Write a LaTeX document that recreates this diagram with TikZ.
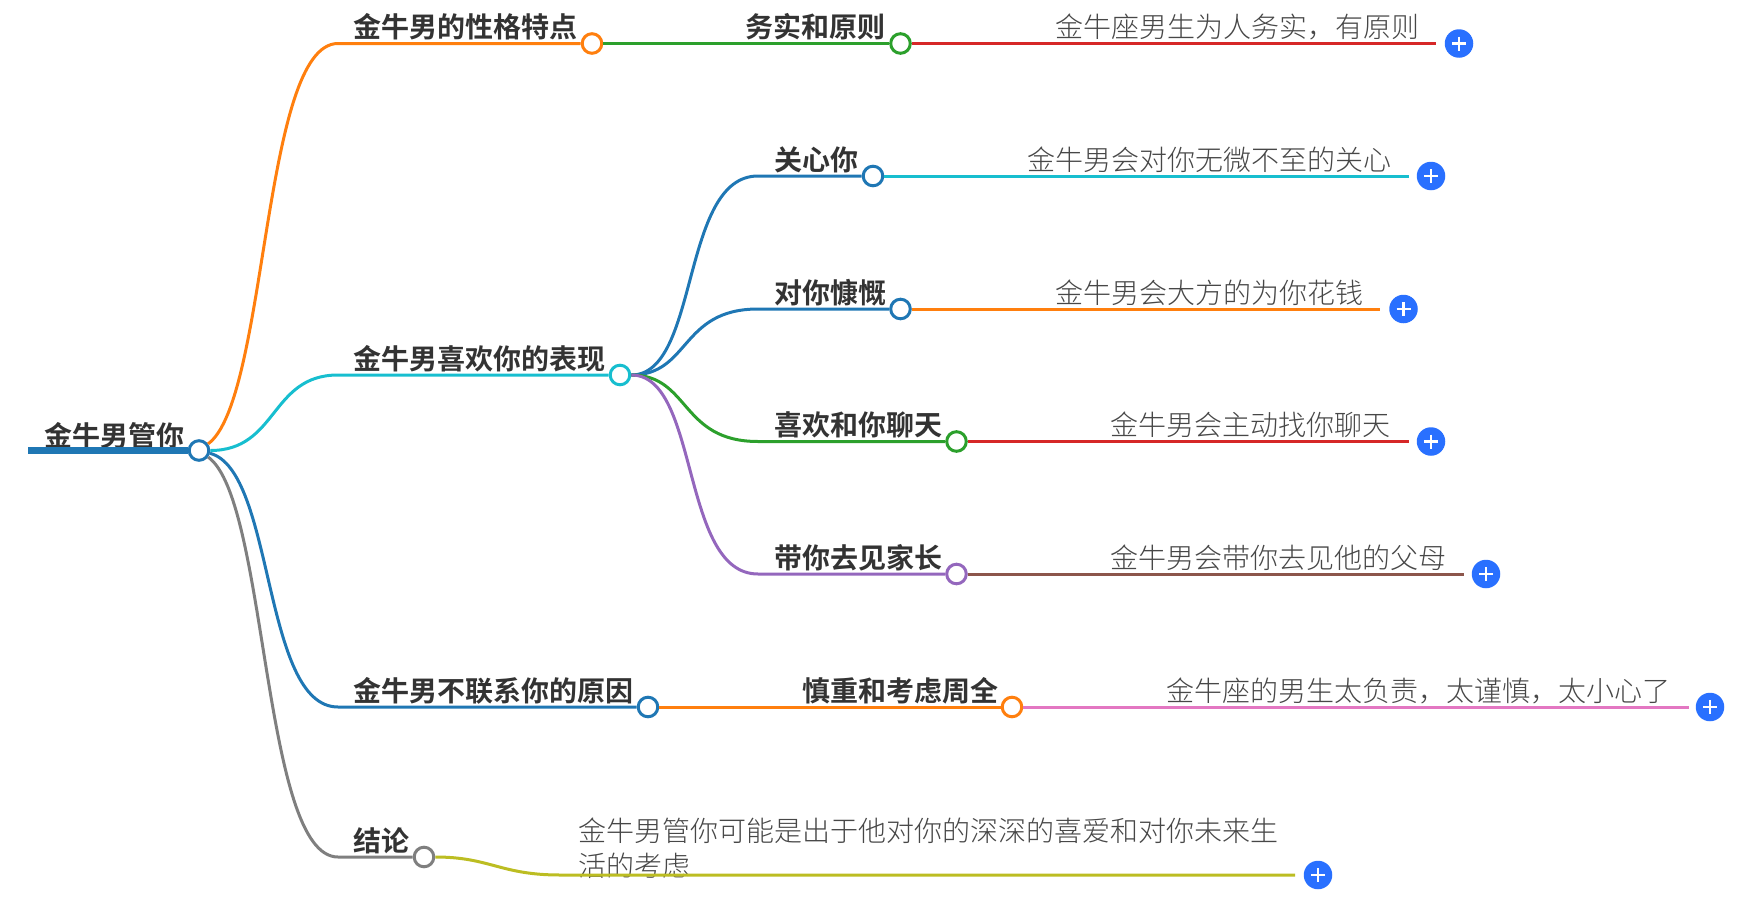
\documentclass[tikz,border=0pt]{standalone}
\usepackage{fontspec}
\usepackage{xcolor}
\setmainfont{Noto Sans CJK SC Light}
\newfontfamily\topicfont{Noto Sans CJK SC Bold}
\definecolor{cblue}{HTML}{1F77B4}
\definecolor{corange}{HTML}{FF7F0E}
\definecolor{cgreen}{HTML}{2CA02C}
\definecolor{cred}{HTML}{D62728}
\definecolor{cpurple}{HTML}{9467BD}
\definecolor{cbrown}{HTML}{8C564B}
\definecolor{cpink}{HTML}{E377C2}
\definecolor{cgray}{HTML}{7F7F7F}
\definecolor{colive}{HTML}{BCBD22}
\definecolor{ccyan}{HTML}{17BECF}
\definecolor{ctext}{HTML}{333333}
\definecolor{cplus}{HTML}{2970FF}
\tikzset{
	topic/.style={anchor=base west, inner sep=0pt, text=ctext, font=\topicfont\fontsize{28}{35}\selectfont},
	leaf/.style={anchor=base west, inner sep=0pt, text=ctext!90, font=\fontsize{28}{35}\selectfont},
	dot/.style={circle, draw=#1, fill=white, line width=3pt, minimum size=19.6pt, inner sep=0pt},
	plusbtn/.style={circle, fill=cplus, minimum size=28.5pt, inner sep=0pt,
		path picture={\draw[white, line width=2.2pt] (path picture bounding box.center) ++(-7,0) -- ++(14,0)
			(path picture bounding box.center) ++(0,-7) -- ++(0,14);}},
	link/.style={draw=#1, line width=3pt},
}
\begin{document}
\begin{tikzpicture}[x=1pt, y=-1pt]
	\useasboundingbox (0,0) rectangle (1748,902);

	\node[dot=cblue] (root) at (199,450.5) {};
	\node[dot=corange] (n1) at (592,43.5) {};
	\node[dot=ccyan] (n2) at (620,375) {};
	\node[dot=cblue] (n3) at (648,707) {};
	\node[dot=cgray] (n4) at (424,857) {};
	\node[dot=cgreen] (n11) at (900.5,43.5) {};
	\node[dot=cblue] (n21) at (873,176) {};
	\node[dot=cblue] (n22) at (900.5,309) {};
	\node[dot=cgreen] (n23) at (956.5,441.5) {};
	\node[dot=cpurple] (n24) at (956.5,574) {};
	\node[dot=corange] (n31) at (1012,707) {};

	\node[plusbtn] (p11) at (1459,43.5) {};
	\node[plusbtn] (p21) at (1431,176) {};
	\node[plusbtn] (p22) at (1403.5,309) {};
	\node[plusbtn] (p23) at (1431,441.5) {};
	\node[plusbtn] (p24) at (1486,574) {};
	\node[plusbtn] (p31) at (1710,707) {};
	\node[plusbtn] (p41) at (1318,875) {};

	\node[topic] (t0) at (44,446) {金牛男管你};
	\node[topic] (t1) at (353,37.5) {金牛男的性格特点};
	\node[topic] (t2) at (353,369) {金牛男喜欢你的表现};
	\node[topic] (t3) at (353,701) {金牛男不联系你的原因};
	\node[topic] (t4) at (353,851) {结论};
	\node[topic] (t11) at (745,37.5) {务实和原则};
	\node[topic] (t21) at (774,170) {关心你};
	\node[topic] (t22) at (774,303) {对你慷慨};
	\node[topic] (t23) at (774,435.5) {喜欢和你聊天};
	\node[topic] (t24) at (774,568) {带你去见家长};
	\node[topic] (t31) at (802,701) {慎重和考虑周全};

	\node[leaf] (l11) at (1055,37.5) {金牛座男生为人务实，有原则};
	\node[leaf] (l21) at (1027,170) {金牛男会对你无微不至的关心};
	\node[leaf] (l22) at (1055,303) {金牛男会大方的为你花钱};
	\node[leaf] (l23) at (1110,435.5) {金牛男会主动找你聊天};
	\node[leaf] (l24) at (1110,568) {金牛男会带你去见他的父母};
	\node[leaf] (l31) at (1166,701) {金牛座的男生太负责，太谨慎，太小心了};
	\node[leaf, anchor=south west, align=left] (l41) at (578.5,879) {金牛男管你可能是出于他对你的深深的喜爱和对你未来生\\活的考虑};

	\coordinate (a0) at (28,450.5);
	\coordinate (a1) at (338,43.5);
	\coordinate (a2) at (338,375);
	\coordinate (a3) at (338,707);
	\coordinate (a4) at (338,857);
	\coordinate (b21) at (758,176);
	\coordinate (b22) at (758,309);
	\coordinate (b23) at (758,441.5);
	\coordinate (b24) at (758,574);
	\coordinate (b41) at (560,875);
	\coordinate (e11) at (1436,43.5);
	\coordinate (e21) at (1409,176);
	\coordinate (e22) at (1380,309);
	\coordinate (e23) at (1409,441.5);
	\coordinate (e24) at (1464,574);
	\coordinate (e31) at (1689,707);
	\coordinate (e41) at (1295,875);

	\draw[link=cblue, line width=6.5pt] (a0) -- (root);

	\draw[link=corange] (root) .. controls (268,400) and (262,43.5) .. (a1) -- (n1);
	\draw[link=ccyan] (root) .. controls (278,450.5) and (270,375) .. (a2) -- (n2);
	\draw[link=cblue] (root) .. controls (275,470) and (262,707) .. (a3) -- (n3);
	\draw[link=cgray] (root) .. controls (268,500) and (262,857) .. (a4) -- (n4);

	\draw[link=cgreen] (n1) -- (n11);
	\draw[link=cred] (n11) -- (e11);

	\draw[link=cblue] (n2) .. controls (700,375) and (680,176) .. (b21) -- (n21);
	\draw[link=cblue] (n2) .. controls (690,375) and (680,309) .. (b22) -- (n22);
	\draw[link=cgreen] (n2) .. controls (690,375) and (680,441.5) .. (b23) -- (n23);
	\draw[link=cpurple] (n2) .. controls (700,375) and (680,574) .. (b24) -- (n24);
	\draw[link=ccyan] (n21) -- (e21);
	\draw[link=corange] (n22) -- (e22);
	\draw[link=cred] (n23) -- (e23);
	\draw[link=cbrown] (n24) -- (e24);

	\draw[link=corange] (n3) -- (n31);
	\draw[link=cpink] (n31) -- (e31);

	\draw[link=colive] (n4) .. controls (490,857) and (500,875) .. (b41) -- (e41);
\end{tikzpicture}
\end{document}
